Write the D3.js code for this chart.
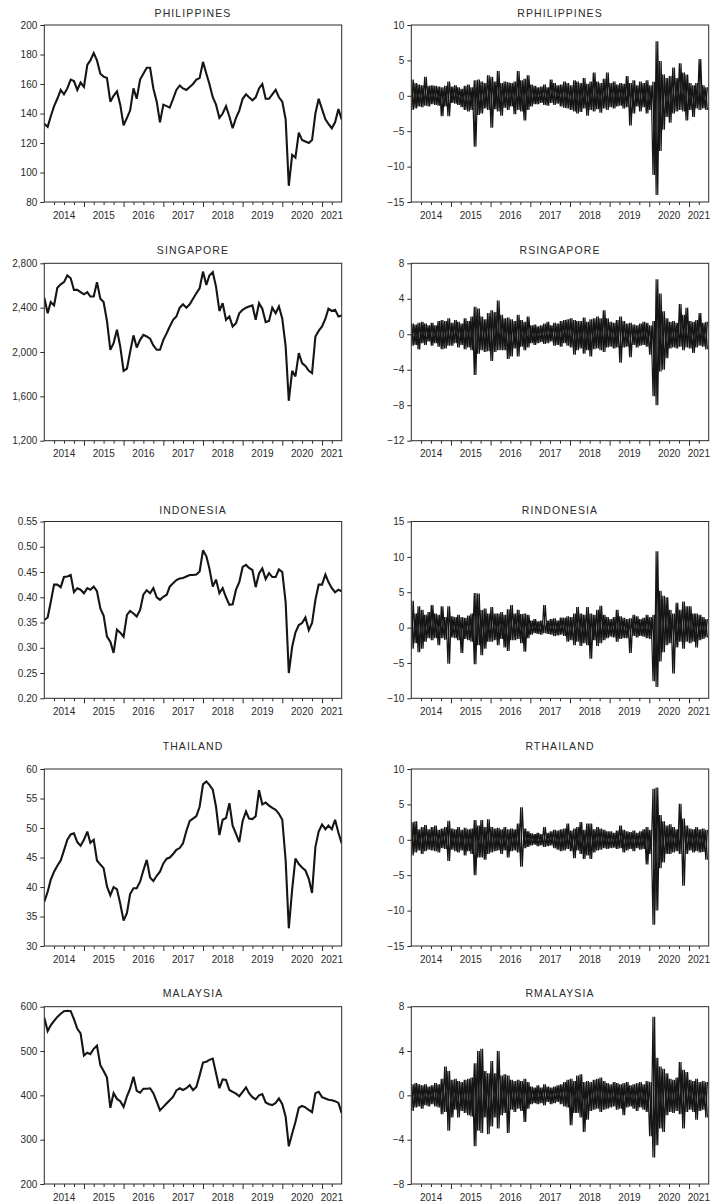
<!DOCTYPE html>
<html>
<head>
<meta charset="utf-8">
<script src="https://cdn.jsdelivr.net/npm/d3@7/dist/d3.min.js"></script>
<style>
  body { margin: 0; background: #fff; }
  svg text { font-family: "Liberation Sans", Arial, sans-serif; fill: #2a2a2a; }
</style>
</head>
<body>
<div id="chart"></div>
<script>
// ---- data: monthly index levels, Jan 2014 .. Jul 2021 (91 obs) ----
const philippines = [
  133, 131, 138, 145, 150, 156, 153, 157, 163, 162, 156, 161,
  158, 173, 176, 181, 176, 167, 165, 164, 148, 152, 155, 146,
  132, 137, 142, 157, 150, 163, 167, 171, 171, 157, 148, 134,
  146, 145, 144, 150, 156, 159, 157, 156, 158, 160, 163, 164,
  175, 167, 160, 151, 146, 137, 140, 145, 138, 130, 137, 142,
  150, 153, 151, 149, 151, 157, 160, 150, 150, 153, 156, 151,
  148, 136, 91, 112, 110, 127, 122, 121, 120, 122, 140, 150,
  143, 136, 133, 130, 134, 143, 136
];
const singapore = [
  2490, 2350, 2450, 2420, 2580, 2610, 2630, 2690, 2665, 2560, 2560, 2540,
  2520, 2540, 2500, 2500, 2630, 2480, 2450, 2280, 2020, 2080, 2200, 2050,
  1830, 1850, 2000, 2150, 2040, 2110, 2155, 2140, 2120, 2060, 2020, 2020,
  2110, 2170, 2230, 2290, 2320, 2400, 2430, 2400, 2430, 2480, 2530, 2575,
  2725, 2605, 2690, 2720, 2590, 2370, 2440, 2290, 2320, 2230, 2260, 2350,
  2380, 2400, 2410, 2420, 2290, 2440, 2390, 2270, 2280, 2400, 2350, 2410,
  2300, 2050, 1560, 1830, 1780, 1990, 1900, 1875, 1830, 1810, 2140, 2190,
  2230, 2300, 2390, 2370, 2380, 2320, 2330
];
const indonesia = [
  0.355, 0.360, 0.390, 0.425, 0.425, 0.420, 0.440, 0.441, 0.444, 0.410, 0.418, 0.415,
  0.408, 0.418, 0.415, 0.421, 0.412, 0.378, 0.364, 0.322, 0.312, 0.290, 0.336, 0.330,
  0.322, 0.365, 0.373, 0.368, 0.362, 0.375, 0.405, 0.414, 0.408, 0.418, 0.400, 0.395,
  0.401, 0.405, 0.421, 0.428, 0.434, 0.437, 0.438, 0.441, 0.444, 0.444, 0.445, 0.451,
  0.493, 0.481, 0.457, 0.421, 0.435, 0.408, 0.418, 0.400, 0.385, 0.386, 0.415, 0.430,
  0.460, 0.464, 0.458, 0.454, 0.420, 0.447, 0.457, 0.436, 0.448, 0.440, 0.440, 0.455,
  0.450, 0.390, 0.250, 0.302, 0.330, 0.345, 0.349, 0.360, 0.335, 0.349, 0.395, 0.425,
  0.425, 0.445, 0.430, 0.418, 0.410, 0.415, 0.412
];
const thailand = [
  37.5, 39.2, 41.2, 42.6, 43.6, 44.5, 46.2, 48.0, 48.9, 49.1, 47.6, 47.0,
  48.0, 49.4, 47.5, 48.0, 44.5, 43.8, 43.2, 40.1, 38.6, 40.0, 39.6, 37.2,
  34.3, 35.6, 38.8, 39.8, 39.8, 40.9, 42.8, 44.6, 41.6, 41.0, 41.9, 42.6,
  44.0, 44.8, 45.0, 45.6, 46.3, 46.6, 47.4, 49.5, 51.2, 51.6, 52.0, 53.6,
  57.4, 57.9, 57.3, 56.5, 53.6, 48.8, 51.4, 51.7, 54.2, 50.4, 49.0, 47.6,
  51.2, 52.8, 51.6, 51.5, 52.0, 56.4, 54.0, 54.3, 53.8, 53.4, 53.1, 52.4,
  51.4, 44.5, 33.0, 39.6, 44.8, 43.9, 43.3, 42.8, 41.4, 39.0, 46.8, 49.4,
  50.6, 49.8, 50.4, 49.8, 51.4, 49.2, 47.4
];
const malaysia = [
  575, 545, 558, 568, 577, 584, 590, 591, 590, 572, 550, 540,
  490, 496, 493, 505, 512, 468, 455, 440, 372, 405, 392, 387,
  374, 398, 415, 442, 410, 406, 415, 415, 416, 405, 386, 366,
  374, 382, 389, 397, 411, 416, 412, 416, 423, 412, 419, 445,
  474, 476, 480, 483, 450, 416, 436, 435, 412, 408, 404, 398,
  408, 418, 405, 396, 391, 400, 403, 384, 380, 378, 383, 393,
  380, 352, 285, 314, 340, 372, 376, 373, 367, 362, 405, 408,
  396, 393, 390, 389, 387, 383, 360
];

// ---- data: monthly high / low of daily returns (%), Jan 2014 .. Jun 2021 (90 months) ----
const rPhilippinesHigh = [
  2.3, 1.8, 1.6, 1.5, 2.7, 1.4, 1.5, 1.4, 1.3, 1.2, 1.4, 2.0,
  1.3, 1.5, 1.2, 1.0, 1.4, 1.6, 1.2, 2.2, 2.3, 2.0, 1.8, 2.9,
  2.7, 2.0, 3.5, 1.8, 2.0, 1.9, 1.8, 2.0, 3.5, 2.2, 2.4, 2.9,
  1.6, 1.4, 1.2, 1.3, 1.6, 1.2, 2.3, 1.8, 1.5, 1.6, 2.0, 1.8,
  1.5, 2.2, 2.0, 1.8, 2.5, 1.7, 2.0, 3.3, 2.0, 1.8, 2.4, 3.3,
  1.8, 2.0, 1.6, 1.8, 1.7, 2.8, 1.8, 2.2, 1.5, 2.0, 1.8, 2.2,
  1.5, 2.0, 7.7, 4.9, 3.0, 2.5, 2.8, 4.0, 2.5, 4.6, 3.3, 3.0,
  1.8, 1.5, 1.8, 5.2, 1.5, 1.2
];
const rPhilippinesLow = [
  -2.0, -1.8, -1.5, -1.6, -1.4, -1.5, -1.2, -1.3, -1.4, -2.9, -1.5, -2.9,
  -1.0, -1.1, -1.3, -1.6, -2.0, -2.2, -2.0, -7.2, -2.7, -2.5, -1.8, -2.0,
  -4.5, -1.9, -2.2, -2.8, -1.7, -2.0, -1.5, -2.6, -2.0, -2.2, -3.5, -2.0,
  -1.5, -1.2, -1.2, -1.0, -1.3, -1.4, -1.0, -1.3, -1.1, -1.5, -1.7, -1.8,
  -2.0, -2.2, -2.5, -2.3, -1.8, -2.8, -2.0, -2.2, -1.9, -2.4, -1.8, -2.0,
  -1.6, -1.8, -1.5, -1.4, -1.8, -1.6, -4.2, -2.5, -1.5, -2.2, -1.6, -2.5,
  -2.0, -11.2, -14.0, -7.8, -4.8, -3.0, -3.8, -2.5, -2.2, -2.0, -2.2, -3.5,
  -2.0, -3.0, -1.8, -2.0, -1.8, -2.0
];
const rSingaporeHigh = [
  1.2, 1.1, 1.3, 1.4, 1.2, 1.0, 1.3, 1.0, 1.5, 1.6, 1.5, 1.8,
  1.3, 1.6, 1.4, 1.2, 1.8, 1.5, 2.0, 3.1, 2.9, 2.0, 1.7, 2.4,
  2.7, 2.5, 3.8, 2.2, 1.8, 1.9, 1.7, 1.5, 2.2, 1.6, 1.4, 2.0,
  1.0, 1.1, 0.9, 1.0, 1.2, 1.4, 1.0, 1.3, 1.2, 1.5, 1.6, 1.7,
  1.8, 1.6, 1.5, 1.5, 1.9, 1.4, 1.7, 1.8, 2.0, 1.8, 2.7, 1.8,
  1.4, 1.3, 1.6, 2.0, 1.5, 1.2, 1.3, 1.1, 1.0, 1.2, 1.4, 1.3,
  1.0, 1.5, 6.2, 4.6, 2.6, 1.8, 1.4, 1.5, 1.3, 3.4, 2.2, 3.0,
  1.5, 1.4, 1.6, 2.4, 1.3, 1.4
];
const rSingaporeLow = [
  -1.3, -1.2, -1.7, -1.0, -1.2, -0.8, -1.3, -1.0, -1.4, -1.7, -1.6, -1.3,
  -1.3, -1.0, -1.5, -1.2, -1.7, -1.5, -1.8, -4.6, -2.2, -1.8, -2.0, -1.9,
  -3.0, -2.0, -1.8, -1.8, -1.8, -2.8, -2.5, -1.6, -2.5, -1.4, -1.8, -1.5,
  -1.0, -1.2, -1.0, -0.9, -1.1, -1.0, -0.8, -1.3, -1.2, -1.4, -1.0, -1.3,
  -1.5, -2.3, -1.8, -1.6, -2.2, -1.8, -2.5, -1.7, -1.6, -1.8, -2.0, -1.5,
  -1.4, -1.6, -1.5, -3.2, -1.5, -1.4, -2.6, -1.2, -1.5, -1.3, -1.2, -1.4,
  -2.3, -7.0, -8.0, -4.2, -4.0, -2.7, -1.6, -1.5, -1.6, -1.4, -1.8, -1.5,
  -1.6, -2.1, -1.5, -1.3, -1.4, -1.7
];
const rIndonesiaHigh = [
  3.8, 2.0, 3.0, 2.5, 1.8, 2.2, 3.2, 2.0, 1.8, 3.0, 1.5, 3.0,
  1.6, 1.5, 1.8, 1.5, 1.4, 1.7, 2.0, 4.9, 4.8, 2.5, 2.7, 2.0,
  2.9, 2.0, 2.0, 2.2, 1.8, 2.6, 3.2, 2.0, 2.5, 1.9, 2.0, 1.8,
  1.0, 1.2, 0.9, 1.0, 3.2, 1.0, 1.2, 1.3, 1.0, 1.4, 1.4, 1.6,
  1.5, 2.0, 2.9, 2.0, 1.8, 2.9, 2.0, 1.8, 2.5, 3.1, 1.8, 1.5,
  1.2, 1.5, 2.5, 1.6, 1.4, 1.2, 1.3, 1.8, 1.6, 1.2, 1.4, 1.8,
  1.5, 1.8, 10.8, 5.2, 4.5, 4.3, 2.5, 2.0, 3.5, 2.5, 3.7, 3.0,
  3.0, 2.0, 2.0, 1.8, 1.5, 1.2
];
const rIndonesiaLow = [
  -3.0, -2.2, -3.5, -3.0, -2.0, -1.5, -1.8, -1.5, -2.5, -1.5, -1.7, -5.1,
  -1.4, -1.5, -1.8, -3.6, -1.6, -1.8, -2.0, -5.2, -2.5, -3.9, -3.0, -2.0,
  -2.0, -1.8, -2.5, -1.6, -2.8, -3.3, -1.8, -1.8, -1.6, -2.2, -3.4, -1.5,
  -1.0, -0.8, -0.9, -1.0, -0.8, -0.9, -1.0, -1.2, -1.1, -1.0, -1.2, -2.0,
  -1.8, -2.5, -2.0, -2.6, -2.2, -2.5, -4.4, -1.8, -2.6, -2.2, -1.8, -1.5,
  -1.3, -1.4, -2.0, -1.6, -1.5, -1.5, -3.6, -1.2, -1.4, -1.2, -1.3, -1.5,
  -1.6, -7.6, -8.4, -4.8, -3.5, -2.5, -2.2, -6.5, -2.8, -2.0, -3.0, -2.0,
  -2.2, -2.0, -2.8, -1.8, -1.6, -1.4
];
const rThailandHigh = [
  2.5, 2.6, 1.5, 1.8, 2.1, 1.5, 1.8, 2.0, 1.4, 1.6, 1.8, 2.7,
  1.6, 1.5, 1.8, 1.4, 1.7, 1.5, 1.6, 2.8, 2.0, 2.8, 1.8, 2.9,
  1.8, 1.6, 1.7, 1.5, 1.8, 1.5, 1.6, 1.5, 2.3, 4.6, 1.6, 1.2,
  0.9, 0.8, 1.0, 0.8, 1.8, 1.0, 1.2, 1.4, 1.3, 1.5, 1.6, 2.3,
  1.3, 1.6, 1.8, 2.5, 1.4, 2.3, 2.3, 1.5, 1.8, 1.6, 1.4, 1.2,
  1.2, 1.0, 1.3, 2.0, 1.4, 1.2, 1.1, 1.3, 1.0, 1.2, 1.5, 1.8,
  1.4, 7.2, 7.4, 3.5, 2.6, 2.0, 2.2, 1.8, 1.5, 5.1, 3.0, 2.0,
  1.6, 1.5, 1.8, 1.5, 1.6, 1.4
];
const rThailandLow = [
  -2.2, -1.8, -1.5, -2.0, -1.6, -1.4, -1.5, -1.6, -1.8, -1.2, -1.3, -3.0,
  -1.4, -1.6, -1.8, -1.5, -2.2, -1.6, -2.0, -5.0, -2.5, -2.5, -2.8, -2.0,
  -1.8, -1.6, -1.5, -2.0, -1.5, -2.5, -1.6, -1.5, -1.8, -3.8, -1.2, -1.0,
  -0.8, -0.7, -0.9, -0.8, -1.0, -0.9, -0.8, -1.2, -1.4, -1.6, -1.5, -1.3,
  -1.6, -2.6, -1.5, -2.0, -2.7, -2.2, -2.7, -1.8, -1.5, -1.4, -1.2, -1.3,
  -1.2, -1.1, -1.3, -1.2, -1.8, -1.5, -1.3, -1.6, -1.2, -1.4, -1.3, -3.5,
  -2.0, -12.0, -10.0, -4.0, -3.2, -2.0, -2.0, -1.8, -1.6, -2.0, -6.5, -2.0,
  -1.5, -1.8, -1.6, -1.8, -1.7, -2.8
];
const rMalaysiaHigh = [
  1.0, 1.1, 1.0, 0.9, 1.0, 0.8, 0.9, 1.1, 1.0, 1.5, 2.6, 2.2,
  1.4, 1.5, 1.3, 1.2, 1.4, 1.5, 1.6, 2.9, 4.0, 4.2, 2.2, 2.0,
  3.1, 2.0, 4.0, 1.8, 1.9, 1.8, 1.4, 1.3, 1.4, 1.3, 1.5, 1.2,
  0.8, 0.7, 0.9, 0.7, 1.0, 0.8, 0.7, 0.8, 0.9, 1.0, 1.2, 1.4,
  1.5, 1.3, 1.8, 1.9, 1.2, 1.3, 1.2, 1.4, 1.5, 1.6, 1.3, 1.1,
  1.0, 1.2, 1.1, 1.0, 1.1, 1.2, 0.9, 1.0, 1.1, 1.2, 1.0, 1.3,
  1.2, 7.1, 3.4, 2.6, 2.4, 2.0, 1.5, 1.4, 1.6, 3.0, 2.3, 2.1,
  1.4, 1.3, 1.5, 1.2, 1.3, 1.2
];
const rMalaysiaLow = [
  -1.4, -1.1, -1.0, -1.2, -0.9, -1.0, -0.8, -1.0, -1.1, -1.7, -1.5, -3.2,
  -2.0, -1.3, -2.0, -1.4, -1.6, -1.8, -1.9, -4.6, -3.2, -3.4, -2.0, -3.5,
  -2.8, -2.0, -3.0, -1.8, -1.6, -3.4, -1.3, -1.5, -1.2, -1.4, -2.4, -1.2,
  -0.8, -0.7, -0.8, -0.7, -0.9, -0.6, -0.8, -0.7, -0.6, -0.8, -1.0, -1.1,
  -2.7, -1.6, -1.6, -2.0, -3.3, -2.2, -1.4, -1.3, -1.2, -1.5, -1.3, -1.2,
  -1.1, -1.0, -1.3, -1.2, -1.8, -1.1, -1.0, -1.2, -1.4, -1.1, -1.3, -1.5,
  -3.7, -5.6, -4.5, -3.0, -3.3, -1.8, -1.5, -1.6, -1.4, -1.7, -3.0, -1.5,
  -1.3, -1.5, -2.2, -1.4, -1.3, -2.0
];

// ---- tick labels ----
const philippinesTicks = [80, 100, 120, 140, 160, 180, 200];
const singaporeTicks = [1200, 1600, 2000, 2400, 2800];
const indonesiaTicks = [0.20, 0.25, 0.30, 0.35, 0.40, 0.45, 0.50, 0.55];
const thailandTicks = [30, 35, 40, 45, 50, 55, 60];
const malaysiaTicks = [200, 300, 400, 500, 600];
const rPhilippinesTicks = [-15, -10, -5, 0, 5, 10];
const rSingaporeTicks = [-12, -8, -4, 0, 4, 8];
const rIndonesiaTicks = [-10, -5, 0, 5, 10, 15];
const rThailandTicks = [-15, -10, -5, 0, 5, 10];
const rMalaysiaTicks = [-8, -4, 0, 4, 8];
const yearLabels = [2014, 2015, 2016, 2017, 2018, 2019, 2020, 2021];

const startDate = new Date(2014, 0, 1);
const endDate = new Date(2021, 6, 1);
const months = d3.timeMonth.range(startDate, new Date(2021, 6, 2));

// ---- layout ----
const width = 714, height = 1203;
const colX = [[44.3, 341.7], [411.3, 708.7]];
const rowY = [[25, 202], [263.3, 440.7], [521.5, 698.3], [769, 946], [1006.7, 1184]];
const titleY = [13, 250, 510, 746, 993];

const panels = [
  {title: "PHILIPPINES", row: 0, col: 0, values: philippines, ticks: philippinesTicks, fmt: d3.format("d")},
  {title: "RPHILIPPINES", row: 0, col: 1, high: rPhilippinesHigh, low: rPhilippinesLow, ticks: rPhilippinesTicks, fmt: d3.format("d")},
  {title: "SINGAPORE", row: 1, col: 0, values: singapore, ticks: singaporeTicks, fmt: d3.format(",")},
  {title: "RSINGAPORE", row: 1, col: 1, high: rSingaporeHigh, low: rSingaporeLow, ticks: rSingaporeTicks, fmt: d3.format("d")},
  {title: "INDONESIA", row: 2, col: 0, values: indonesia, ticks: indonesiaTicks, fmt: d3.format(".2f")},
  {title: "RINDONESIA", row: 2, col: 1, high: rIndonesiaHigh, low: rIndonesiaLow, ticks: rIndonesiaTicks, fmt: d3.format("d")},
  {title: "THAILAND", row: 3, col: 0, values: thailand, ticks: thailandTicks, fmt: d3.format("d")},
  {title: "RTHAILAND", row: 3, col: 1, high: rThailandHigh, low: rThailandLow, ticks: rThailandTicks, fmt: d3.format("d")},
  {title: "MALAYSIA", row: 4, col: 0, values: malaysia, ticks: malaysiaTicks, fmt: d3.format("d")},
  {title: "RMALAYSIA", row: 4, col: 1, high: rMalaysiaHigh, low: rMalaysiaLow, ticks: rMalaysiaTicks, fmt: d3.format("d")}
];

const svg = d3.select("#chart").append("svg")
  .attr("width", width)
  .attr("height", height)
  .attr("viewBox", [0, 0, width, height]);

panels.forEach(function (p, i) {
  const [x0, x1] = colX[p.col];
  const [y0, y1] = rowY[p.row];

  const x = d3.scaleTime().domain([startDate, endDate]).range([x0, x1]);
  const y = d3.scaleLinear().domain(d3.extent(p.ticks)).range([y1, y0]);

  // one or more traces per panel
  let traces;
  if (p.values) {
    traces = [p.values.map((v, m) => ({date: months[m], v: v}))];
  } else {
    // high then low within each month, and the crossing order, so the band reads solid
    const a = [], b = [];
    p.high.forEach(function (h, m) {
      a.push({date: new Date(2014, m, 4), v: h});
      a.push({date: new Date(2014, m, 19), v: p.low[m]});
      b.push({date: new Date(2014, m, 4), v: p.low[m]});
      b.push({date: new Date(2014, m, 19), v: h});
    });
    traces = [a, b];
  }

  const g = svg.append("g");

  g.append("clipPath").attr("id", "clip" + i)
    .append("rect").attr("x", x0).attr("y", y0).attr("width", x1 - x0).attr("height", y1 - y0);

  const line = d3.line().x(d => x(d.date)).y(d => y(d.v));

  g.selectAll(".trace")
    .data(traces)
    .join("path")
    .attr("class", "trace")
    .attr("clip-path", "url(#clip" + i + ")")
    .attr("fill", "none")
    .attr("stroke", "#151515")
    .attr("stroke-width", p.values ? 2.1 : 1.2)
    .attr("stroke-linejoin", "miter")
    .attr("stroke-miterlimit", 3)
    .attr("d", line);

  // frame
  g.append("rect")
    .attr("x", x0).attr("y", y0)
    .attr("width", x1 - x0).attr("height", y1 - y0)
    .attr("fill", "none").attr("stroke", "#2a2a2a").attr("stroke-width", 1);

  // y axis
  const yAxis = g.append("g")
    .attr("transform", "translate(" + x0 + ",0)")
    .call(d3.axisLeft(y).tickValues(p.ticks).tickSize(4).tickPadding(3).tickFormat(p.fmt));
  yAxis.select(".domain").remove();
  yAxis.selectAll("line").attr("stroke", "#2a2a2a");
  yAxis.selectAll("text").attr("font-size", "10px").attr("fill", "#2a2a2a")
    .attr("font-family", "Liberation Sans, Arial, sans-serif");

  // x axis: quarterly minor ticks, yearly major ticks
  const quarters = d3.timeMonth.every(3).range(startDate, endDate).filter(d => d.getMonth() !== 0);
  const years = d3.timeYear.range(new Date(2015, 0, 1), endDate);

  const minor = g.append("g")
    .attr("transform", "translate(0," + y1 + ")")
    .call(d3.axisBottom(x).tickValues(quarters).tickSize(3).tickFormat(""));
  minor.select(".domain").remove();
  minor.selectAll("line").attr("stroke", "#2a2a2a");

  const major = g.append("g")
    .attr("transform", "translate(0," + y1 + ")")
    .call(d3.axisBottom(x).tickValues(years).tickSize(5).tickFormat(""));
  major.select(".domain").remove();
  major.selectAll("line").attr("stroke", "#2a2a2a");

  g.selectAll(".year-label")
    .data(yearLabels)
    .join("text")
    .attr("class", "year-label")
    .attr("x", function (yr) {
      const a = d3.max([startDate, new Date(yr, 0, 1)]);
      const b = d3.min([endDate, new Date(yr + 1, 0, 1)]);
      return (x(a) + x(b)) / 2;
    })
    .attr("y", y1 + 16.5)
    .attr("text-anchor", "middle")
    .attr("font-size", "10px")
    .text(d => d);

  // title
  g.append("text")
    .attr("x", (x0 + x1) / 2)
    .attr("y", titleY[p.row] + 3.8)
    .attr("text-anchor", "middle")
    .attr("font-size", "10.5px")
    .attr("letter-spacing", "1.1px")
    .text(p.title);
});
</script>
</body>
</html>
